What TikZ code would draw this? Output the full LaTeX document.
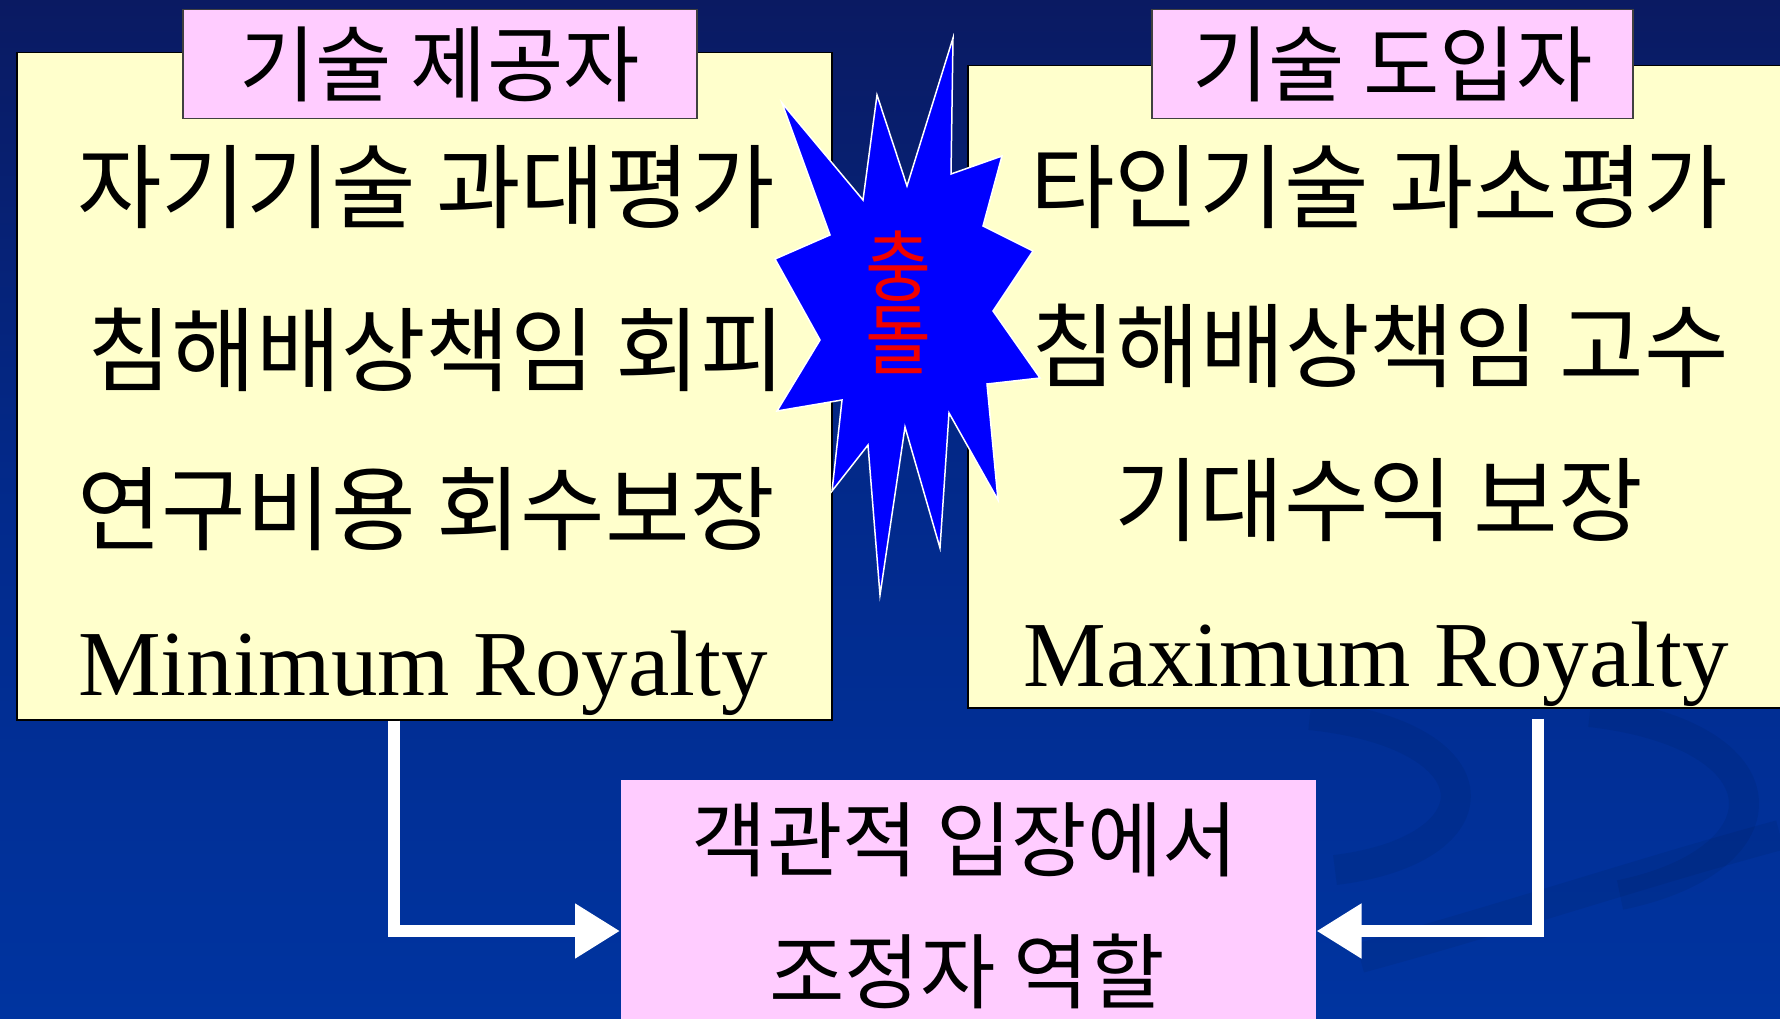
\documentclass[tikz,border=0pt]{standalone}
\usepackage{fontspec}
\setmainfont{Noto Sans CJK KR}
\newfontfamily\latfont{Liberation Serif}
\usetikzlibrary{arrows.meta,calc}
\definecolor{ybg}{RGB}{255,255,204}
\definecolor{pbg}{RGB}{255,204,255}
\definecolor{navytop}{RGB}{10,26,98}
\definecolor{navymid}{RGB}{2,42,140}
\definecolor{navybot}{RGB}{0,52,160}
\definecolor{burstblue}{RGB}{0,0,255}
\definecolor{clashred}{RGB}{240,0,0}
\begin{document}
\begin{tikzpicture}[x=1pt,y=-1pt,
  ybox/.style={draw=black,line width=1.5pt,fill=ybg,inner sep=0pt},
  pbox/.style={draw=black!75,line width=1.5pt,fill=pbg,inner sep=0pt},
  boxtext/.style={font=\fontsize{92}{96}\selectfont,inner sep=0pt},
  lattext/.style={font=\latfont\fontsize{93}{96}\selectfont,inner sep=0pt,anchor=base},
  headtext/.style={font=\fontsize{83}{88}\selectfont,inner sep=0pt},
  bottext/.style={font=\fontsize{82}{88}\selectfont,inner sep=0pt},
  clashtext/.style={font=\fontsize{78}{80}\selectfont,text=clashred,inner sep=0pt},
  flow/.style={draw=white,line width=12pt,line join=miter,-{Triangle[length=45pt,width=52pt]}},
  swoosh/.style={draw=black,opacity=0.06,line width=30pt},
]
\useasboundingbox (0,0) rectangle (1780,1019);
\shade[top color=navytop, bottom color=navybot, middle color=navymid] (0,0) rectangle (1780,1019);
% faint background swooshes
\draw[swoosh] (1310,715) .. controls (1500,735) and (1500,850) .. (1335,870);
\draw[swoosh] (1590,712) .. controls (1790,735) and (1790,860) .. (1620,895);
\draw[swoosh] (1360,958) .. controls (1500,920) and (1650,870) .. (1780,835);

% boxes
\node[ybox,anchor=north west,minimum width=815pt,minimum height=667pt] (lbox) at (16,52) {};
\node[ybox,anchor=north west,minimum width=830pt,minimum height=642pt] (rbox) at (967,65) {};
\node[pbox,anchor=north west,minimum width=514pt,minimum height=109pt] (lhead) at (182,9) {};
\node[pbox,anchor=north west,minimum width=481pt,minimum height=109pt] (rhead) at (1151,9) {};
\node[pbox,draw=none,anchor=north west,minimum width=695pt,minimum height=260pt] (bot) at (620,779) {};

% connectors
\coordinate (lx) at (394,931);
\coordinate (rx) at (1538,931);
\draw[flow] (lbox.south -| lx) |- (bot.west |- lx);
\draw[flow] ($(rbox.south -| rx)+(0,10)$) |- (bot.east |- rx);

% starburst
\filldraw[fill=burstblue,draw=white,line width=1.5pt,line join=miter]
 (953,38) -- (951,174) -- (1002,156) -- (983,226) -- (1033,251) -- (993,311)
 -- (1040,378) -- (987,384) -- (998,500) -- (949,413) -- (940,548) -- (905,427)
 -- (880,595) -- (868,445) -- (832,491) -- (842,400) -- (777,411) -- (820,340)
 -- (775,259) -- (830,235) -- (782,103) -- (863,200) -- (877,95) -- (907,186) -- cycle;
\node[clashtext] (clash1) at (898,266) {\scalebox{0.92}[1]{충}};
\node[clashtext] (clash2) at (898,340) {\scalebox{0.92}[1]{돌}};

% texts
\node[headtext] (lh) at (lhead.center) {기술 제공자};
\node[headtext] (rh) at (rhead.center) {기술 도입자};

\node[boxtext] (l1) at (426,187) {자기기술 과대평가};
\node[boxtext] (l2) at (436,350) {침해배상책임 회피};
\node[boxtext] (l3) at (426,509) {연구비용 회수보장};
\node[lattext] (l4) at (423,695) {Minimum Royalty};

\node[boxtext] (r1) at (1379,187) {타인기술 과소평가};
\node[boxtext] (r2) at (1380,346) {침해배상책임 고수};
\node[boxtext] (r3) at (1379,500) {기대수익 보장};
\node[lattext] (r4) at (1376,686) {Maximum Royalty};

\node[bottext] (b1) at (965,840) {객관적 입장에서};
\node[bottext] (b2) at (967,971) {조정자 역할};
\end{tikzpicture}
\end{document}
